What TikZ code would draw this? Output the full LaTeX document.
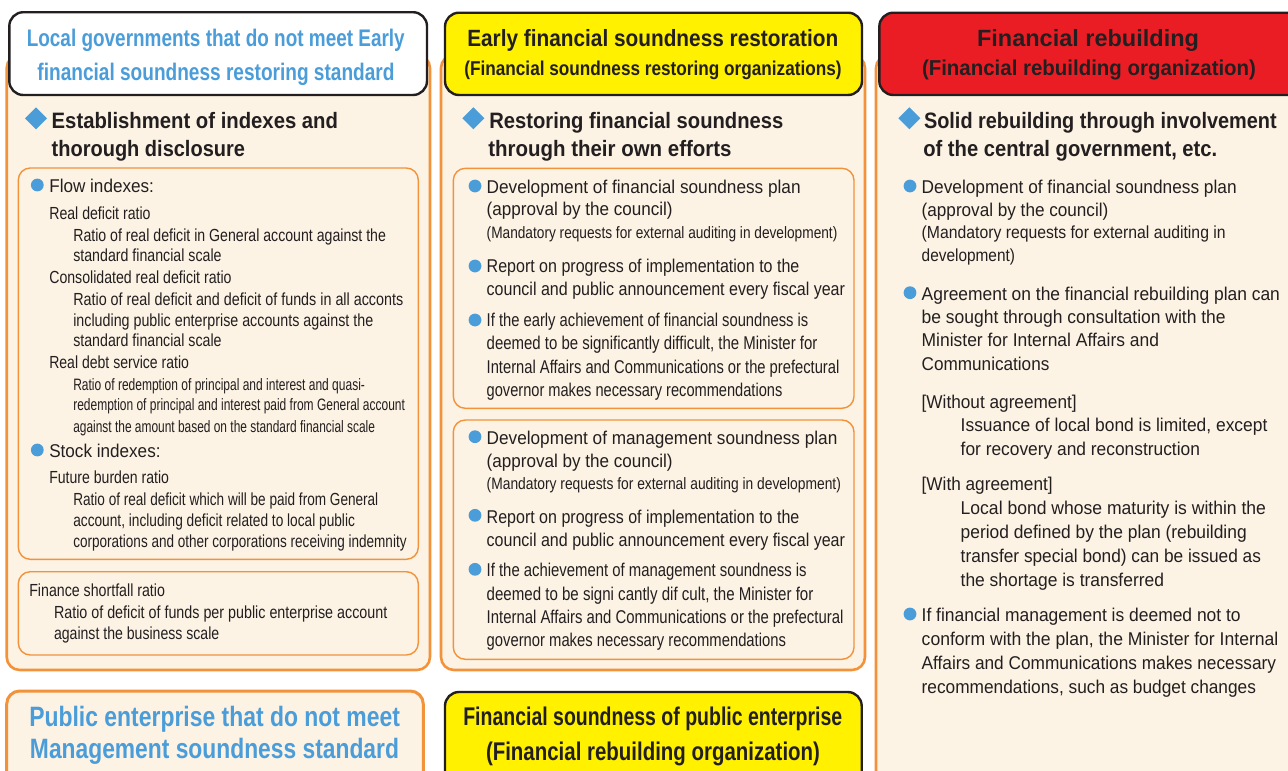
\documentclass[tikz,border=0pt]{standalone}
\usepackage{fontspec}
\setmainfont{Liberation Sans}
\usepackage{graphicx}
\definecolor{orangeC}{HTML}{F2923A}
\definecolor{creamC}{HTML}{FCF3E4}
\definecolor{blueC}{HTML}{4A9DD9}
\definecolor{yellowC}{HTML}{FFF100}
\definecolor{redC}{HTML}{EA1D25}
\definecolor{darkC}{HTML}{231F20}
\newcommand\fw[2]{\resizebox{#1pt}{\height}{#2}}
\newcommand\tx[6]{\node[#2] (#1) at (#3,#4) {\fw{#5}{#6}};}
\tikzset{
  outerbox/.style={draw=orangeC, line width=2.6pt, fill=creamC, rounded corners=13pt},
  innerbox/.style={draw=orangeC, line width=1.4pt, rounded corners=12pt},
  headbox/.style={draw=darkC, line width=2.4pt, rounded corners=14pt},
  txt/.style={anchor=base west, inner sep=0pt, outer sep=0pt, text=darkC},
  bA/.style={txt, font=\fontsize{18.5}{20}\selectfont},
  bB/.style={txt, font=\fontsize{17.5}{20}\selectfont},
  bC/.style={txt, font=\fontsize{16.5}{20}\selectfont},
  bE/.style={txt, font=\fontsize{17.5}{20}\selectfont},
  hd/.style={txt, font=\bfseries\fontsize{22.3}{24}\selectfont},
  ctr/.style={anchor=base, inner sep=0pt, outer sep=0pt},
  bluehead/.style={ctr, text=blueC, font=\bfseries\fontsize{24}{26}\selectfont},
  bluebig/.style={txt, text=blueC, font=\bfseries\fontsize{28}{30}\selectfont},
  tA/.style={ctr, text=darkC, font=\bfseries\fontsize{23.5}{26}\selectfont},
  tB/.style={ctr, text=darkC, font=\bfseries\fontsize{20}{22}\selectfont},
  tR/.style={ctr, text=darkC, font=\bfseries\fontsize{21.5}{22}\selectfont},
  tY/.style={ctr, text=darkC, font=\bfseries\fontsize{25.6}{28}\selectfont},
  dot/.style={fill=blueC},
}
\begin{document}
\begin{tikzpicture}[x=1pt,y=-1pt]
\useasboundingbox (0,0) rectangle (1288,771);
\clip (0,0) rectangle (1288,771);
\fill[white] (0,0) rectangle (1288,771);

% outer column boxes
\draw[outerbox] (6.7,55) rectangle (430,670);
\draw[outerbox] (441,55) rectangle (865,670);
\draw[outerbox] (876,55) rectangle (1310,800);

% header boxes
\draw[headbox, fill=white] (9.3,12.2) rectangle (427,95);
\draw[headbox, fill=yellowC] (445,12.7) rectangle (862,95);
\draw[headbox, fill=redC] (879.3,12.7) rectangle (1310,95);

% bottom boxes
\draw[outerbox, line width=3pt] (6.7,691) rectangle (423.3,800);
\draw[headbox, fill=yellowC] (445,692) rectangle (861.7,800);

% inner boxes
\draw[innerbox] (18.3,168) rectangle (418.3,559.3);
\draw[innerbox] (18.3,571.7) rectangle (418.3,655);
\draw[innerbox] (453.3,168.3) rectangle (854,408.3);
\draw[innerbox] (453.3,420) rectangle (854,659.3);

% diamonds
\foreach \cx in {36,473.3,909.3}{
  \fill[blueC] (\cx-11,118.3) -- (\cx,107.3) -- (\cx+11,118.3) -- (\cx,129.3) -- cycle;
}
% bullets
\foreach \p in {(37.3,185),(37.3,450),(475,186),(475,266),(475,320),(475,436.7),(475,515.3),(475,569.3),(910,186),(910,292.7),(910,614)}{
  \fill[dot] \p circle (6.4);
}

% ---------- left column ----------
\tx{h1a}{bluehead}{215.8}{46.7}{378}{Local governments that do not meet Early}
\tx{h1b}{bluehead}{216}{80.3}{357}{financial soundness restoring standard}
\tx{g1a}{hd}{51.7}{128.3}{286.3}{Establishment of indexes and}
\tx{g1b}{hd}{51.7}{156.7}{193.3}{thorough disclosure}
\tx{l1}{bA}{49.3}{192.3}{104.7}{Flow indexes:}
\tx{l2}{bB}{49.3}{219}{101.3}{Real deficit ratio}
\tx{l3}{bB}{73.3}{241}{312.7}{Ratio of real deficit in General account against the}
\tx{l4}{bB}{73.3}{261.7}{148.3}{standard financial scale}
\tx{l5}{bB}{49.3}{283.3}{182.3}{Consolidated real deficit ratio}
\tx{l6}{bB}{73.3}{305}{330}{Ratio of real deficit and deficit of funds in all acconts}
\tx{l7}{bB}{73.3}{326}{300}{including public enterprise accounts against the}
\tx{l8}{bB}{73.3}{346.7}{148.3}{standard financial scale}
\tx{l9}{bB}{49.3}{368.3}{139.7}{Real debt service ratio}
\tx{l10}{bC}{73.3}{390}{291.7}{Ratio of redemption of principal and interest and quasi-}
\tx{l11}{bC}{73.3}{410.7}{331.7}{redemption of principal and interest paid from General account}
\tx{l12}{bC}{73.3}{432.7}{301.7}{against the amount based on the standard financial scale}
\tx{l13}{bA}{49.3}{457}{111.3}{Stock indexes:}
\tx{l14}{bB}{49.3}{483.3}{119.7}{Future burden ratio}
\tx{l15}{bB}{73.3}{505.7}{305}{Ratio of real deficit which will be paid from General}
\tx{l16}{bB}{73.3}{526.7}{281.7}{account, including deficit related to local public}
\tx{l17}{bB}{73.3}{547.7}{333.3}{corporations and other corporations receiving indemnity}
\tx{l18}{bB}{29.3}{596.7}{135.7}{Finance shortfall ratio}
\tx{l19}{bB}{54}{618.3}{333.3}{Ratio of deficit of funds per public enterprise account}
\tx{l20}{bB}{54}{639.3}{165.3}{against the business scale}
\tx{pb1}{bluebig}{29.3}{726.7}{370.7}{Public enterprise that do not meet}
\tx{pb2}{bluebig}{30}{758.3}{369}{Management soundness standard}

% ---------- middle column ----------
\tx{m1a}{tA}{652.8}{46.7}{371}{Early financial soundness restoration}
\tx{m1b}{tB}{653}{75.5}{377.3}{(Financial soundness restoring organizations)}
\tx{g2a}{hd}{489.3}{128.3}{294}{Restoring financial soundness}
\tx{g2b}{hd}{488.3}{156.7}{243.3}{through their own efforts}
\tx{m1}{bA}{486.7}{193.3}{314}{Development of financial soundness plan}
\tx{m2}{bA}{486.7}{215}{186}{(approval by the council)}
\tx{m3}{bC}{486.7}{238.3}{350.7}{(Mandatory requests for external auditing in development)}
\tx{m4}{bA}{486.7}{272.7}{312.7}{Report on progress of implementation to the}
\tx{m5}{bA}{486.7}{295}{358.3}{council and public announcement every fiscal year}
\tx{m6}{bA}{486.7}{326}{321.7}{If the early achievement of financial soundness is}
\tx{m7}{bA}{486.7}{349.3}{330.7}{deemed to be significantly difficult, the Minister for}
\tx{m8}{bA}{486.7}{373.3}{352.7}{Internal Affairs and Communications or the prefectural}
\tx{m9}{bA}{486.7}{396}{295.7}{governor makes necessary recommendations}
\tx{n1}{bA}{486.7}{444}{350.7}{Development of management soundness plan}
\tx{n2}{bA}{486.7}{467.3}{186}{(approval by the council)}
\tx{n3}{bC}{486.7}{489.3}{354.3}{(Mandatory requests for external auditing in development)}
\tx{n4}{bA}{486.7}{523.3}{312.7}{Report on progress of implementation to the}
\tx{n5}{bA}{486.7}{546}{358.3}{council and public announcement every fiscal year}
\tx{n6}{bA}{486.7}{576.7}{320}{If the achievement of management soundness is}
\tx{n7}{bA}{486.7}{600}{326.7}{deemed to be signi cantly dif cult, the Minister for}
\tx{n8}{bA}{486.7}{623.3}{356.7}{Internal Affairs and Communications or the prefectural}
\tx{n9}{bA}{486.7}{646.7}{299.3}{governor makes necessary recommendations}
\tx{yb1}{tY}{652.8}{725}{379}{Financial soundness of public enterprise}
\tx{yb2}{tY}{653}{760}{334}{(Financial rebuilding organization)}

% ---------- right column ----------
\tx{r1a}{tA}{1088}{46.7}{222}{Financial rebuilding}
\tx{r1b}{tR}{1089}{75.5}{334}{(Financial rebuilding organization)}
\tx{g3a}{hd}{924}{128.3}{352.7}{Solid rebuilding through involvement}
\tx{g3b}{hd}{923.3}{156.7}{294}{of the central government, etc.}
\tx{r1}{bA}{921.7}{193.3}{315}{Development of financial soundness plan}
\tx{r2}{bA}{921.7}{216}{186.7}{(approval by the council)}
\tx{r3}{bE}{921.7}{238.3}{304}{(Mandatory requests for external auditing in}
\tx{r4}{bE}{921.7}{261.7}{93.3}{development)}
\tx{r5}{bA}{921.7}{300}{358.3}{Agreement on the financial rebuilding plan can}
\tx{r6}{bA}{921.7}{323.3}{304}{be sought through consultation with the}
\tx{r7}{bA}{921.7}{346.7}{237.3}{Minister for Internal Affairs and}
\tx{r8}{bA}{921.7}{370.7}{127.7}{Communications}
\tx{r9}{bA}{921.7}{408.3}{155}{[Without agreement]}
\tx{r10}{bA}{960.7}{431.7}{306.7}{Issuance of local bond is limited, except}
\tx{r11}{bA}{960.7}{455}{239.3}{for recovery and reconstruction}
\tx{r12}{bA}{921.7}{490.7}{131}{[With agreement]}
\tx{r13}{bA}{960.7}{514}{305.3}{Local bond whose maturity is within the}
\tx{r14}{bA}{960.7}{538.3}{286}{period defined by the plan (rebuilding}
\tx{r15}{bA}{960.7}{562.3}{300.3}{transfer special bond) can be issued as}
\tx{r16}{bA}{960.7}{586}{203.3}{the shortage is transferred}
\tx{r17}{bA}{921.7}{621.7}{319}{If financial management is deemed not to}
\tx{r18}{bA}{921.7}{645}{356.7}{conform with the plan, the Minister for Internal}
\tx{r19}{bA}{921.7}{669.3}{354.3}{Affairs and Communications makes necessary}
\tx{r20}{bA}{921.7}{693.3}{334.3}{recommendations, such as budget changes}
\end{tikzpicture}
\end{document}
